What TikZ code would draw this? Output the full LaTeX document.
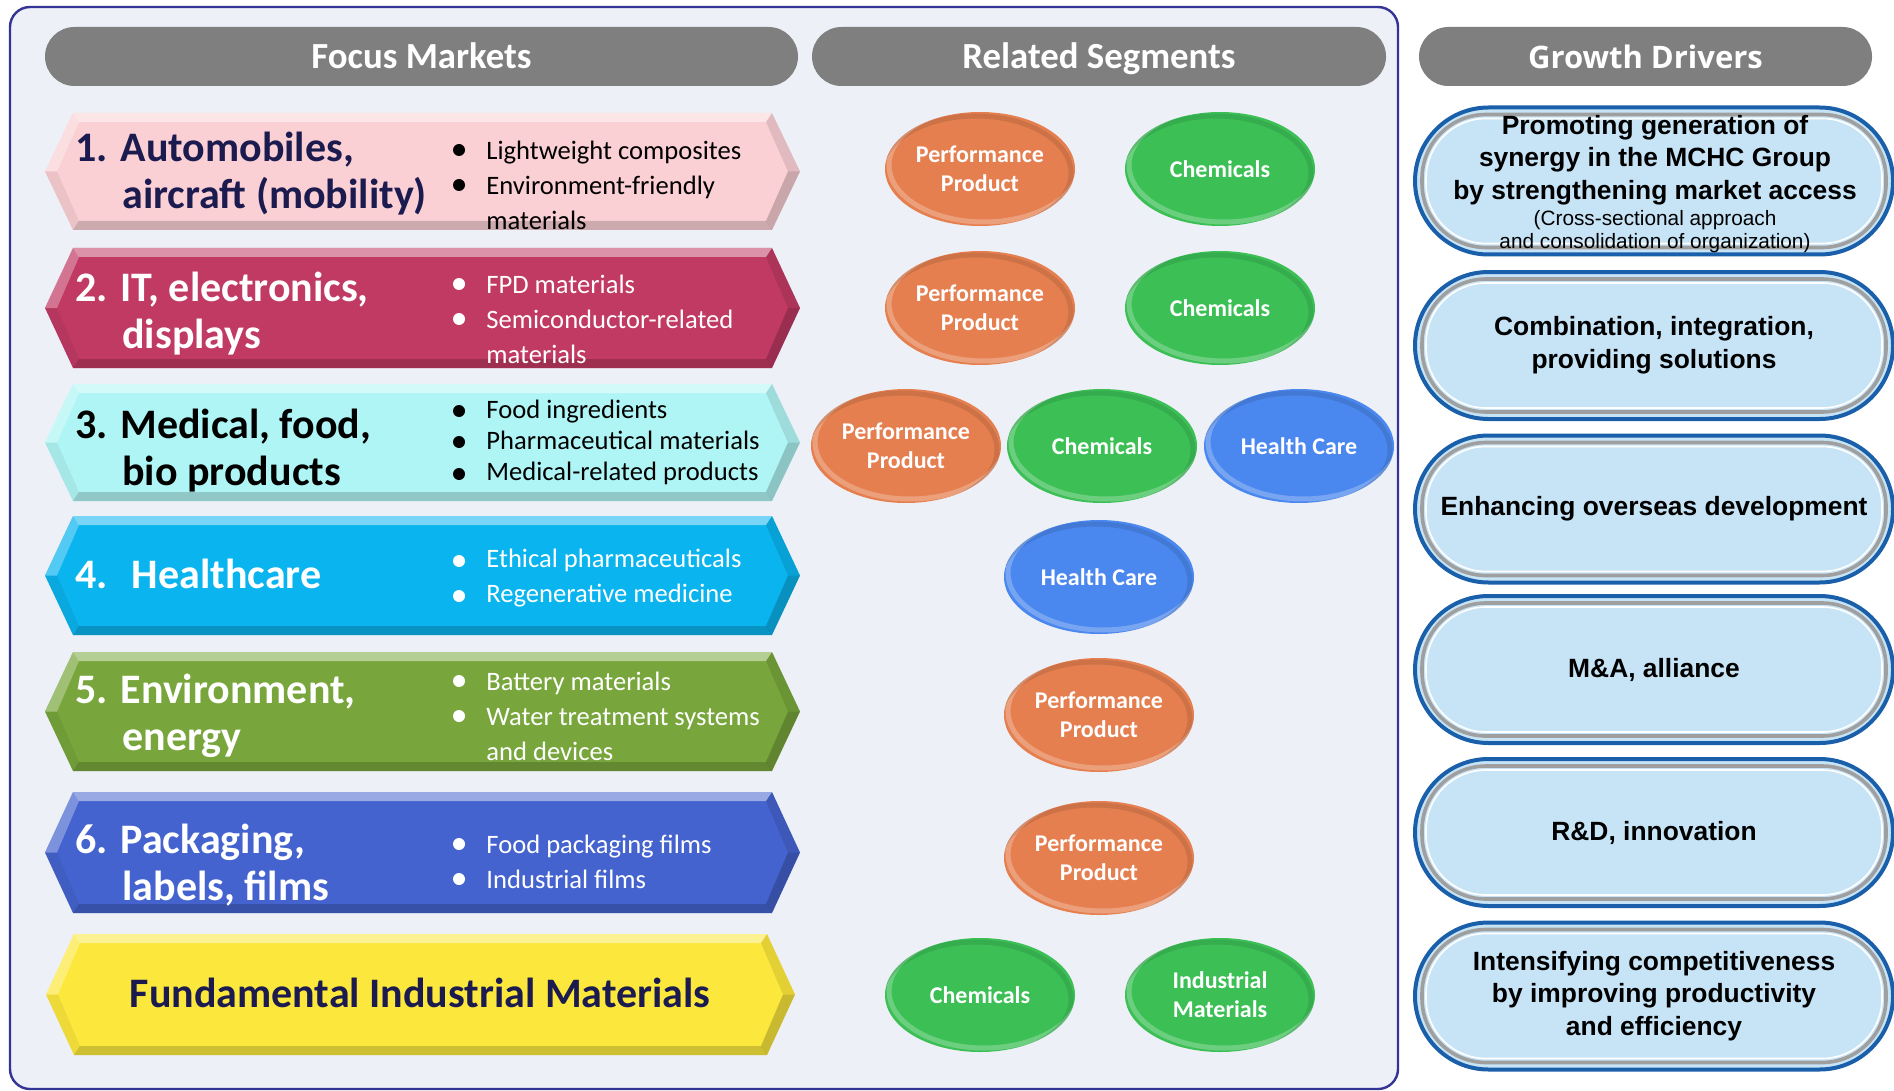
\documentclass[tikz,border=0pt]{standalone}
\usepackage{fontspec}
\usepackage{tikz}
\usetikzlibrary{shapes.geometric,shapes.misc,calc}
\newfontfamily\mktfont{Carlito}
\newfontfamily\drvfont{Liberation Sans}
\newfontfamily\hdrfont{Open Sans}
\definecolor{frameEdge}{RGB}{52,52,150}
\definecolor{frameFill}{RGB}{238,240,248}
\definecolor{hdrGray}{RGB}{127,127,127}
\definecolor{navyText}{RGB}{27,27,80}
\definecolor{mktPink}{RGB}{250,208,212}
\definecolor{mktCrimson}{RGB}{193,58,100}
\definecolor{mktCyan}{RGB}{176,245,245}
\definecolor{mktSky}{RGB}{10,180,238}
\definecolor{mktOlive}{RGB}{120,166,60}
\definecolor{mktRoyal}{RGB}{68,99,207}
\definecolor{mktYellow}{RGB}{252,232,60}
\definecolor{segOrange}{RGB}{229,127,80}
\definecolor{segGreen}{RGB}{60,192,86}
\definecolor{segBlue}{RGB}{74,135,238}
\definecolor{pillFill}{RGB}{199,228,247}
\definecolor{pillEdge}{RGB}{26,95,170}

% bevelled market banner: x0, x1, top, bottom, colour
\newcommand\mkthex[5]{%
  \fill[#5] (#1,{(#3+#4)/2}) -- ({#1+28},#3) -- ({#2-28},#3) -- (#2,{(#3+#4)/2}) -- ({#2-28},#4) -- ({#1+28},#4) -- cycle;
  \fill[white,opacity=.45] ({#1+28},#3) -- ({#2-28},#3) -- ({#2-34},{#3+9}) -- ({#1+34},{#3+9}) -- cycle;
  \fill[white,opacity=.3] (#1,{(#3+#4)/2}) -- ({#1+28},#3) -- ({#1+34},{#3+9}) -- ({#1+12},{(#3+#4)/2}) -- cycle;
  \fill[black,opacity=.06] (#1,{(#3+#4)/2}) -- ({#1+28},#4) -- ({#1+34},{#4-9}) -- ({#1+12},{(#3+#4)/2}) -- cycle;
  \fill[black,opacity=.1] (#2,{(#3+#4)/2}) -- ({#2-28},#3) -- ({#2-34},{#3+9}) -- ({#2-12},{(#3+#4)/2}) -- cycle;
  \fill[black,opacity=.2] (#2,{(#3+#4)/2}) -- ({#2-28},#4) -- ({#2-34},{#4-9}) -- ({#2-12},{(#3+#4)/2}) -- cycle;
  \fill[black,opacity=.18] ({#1+28},#4) -- ({#2-28},#4) -- ({#2-34},{#4-9}) -- ({#1+34},{#4-9}) -- cycle;
}

\tikzset{
  colhead/.style={rounded rectangle, fill=hdrGray, text=white, minimum height=29.5pt, inner sep=0pt,
    text height=14.5pt, text depth=2.5pt, font=\mktfont\bfseries\fontsize{18.4}{22}\selectfont},
  mkttitle/.style={anchor=west, align=left, inner sep=0pt, font=\mktfont\bfseries\fontsize{21}{23.5}\selectfont},
  mktlist/.style={anchor=west, align=left, inner sep=0pt, font=\mktfont\fontsize{13.3}{17.5}\selectfont},
  segment/.style={ellipse, minimum width=95pt, minimum height=57pt, inner sep=0pt, text=white, align=center,
    font=\mktfont\bfseries\fontsize{12}{14.5}\selectfont,
    path picture={
      \draw[white,opacity=.25,line width=2.5pt] ([shift={(2pt,2pt)}]path picture bounding box.center) ellipse [x radius=47.5pt, y radius=28.5pt];
      \draw[black,opacity=.1,line width=2.5pt] ([shift={(-2pt,-2pt)}]path picture bounding box.center) ellipse [x radius=47.5pt, y radius=28.5pt];
    }},
  perf/.style={segment, fill=segOrange},
  chem/.style={segment, fill=segGreen},
  hcare/.style={segment, fill=segBlue},
  driver/.style={rounded rectangle, minimum width=239pt, minimum height=73.5pt, inner sep=0pt,
    fill=pillFill, draw=pillEdge, line width=2pt, align=center,
    font=\drvfont\bfseries\fontsize{13.2}{16.3}\selectfont,
    path picture={
      \draw[gray!75, line width=1.8pt, rounded corners=32pt] ($(path picture bounding box.south west)+(3.5pt,3.5pt)$) rectangle ($(path picture bounding box.north east)-(3.5pt,3.5pt)$);
      \draw[white, line width=0.8pt, rounded corners=30pt] ($(path picture bounding box.south west)+(5.5pt,5.5pt)$) rectangle ($(path picture bounding box.north east)-(5.5pt,5.5pt)$);
    }},
  drvtext/.style={align=center, inner sep=0pt, font=\drvfont\bfseries\fontsize{13.2}{16.3}\selectfont},
}

\begin{document}
\begin{tikzpicture}[x=0.5pt,y=-0.5pt]
\useasboundingbox (0,0) rectangle (1894,1091);
\fill[white] (0,0) rectangle (1894,1091);
\draw[frameEdge, line width=1.2pt, fill=frameFill, rounded corners=10pt] (10,7) rectangle (1398,1089);

% column heads
\node[colhead, minimum width=376.5pt] (hdMarkets) at (421.5,56.5) {Focus Markets};
\node[colhead, minimum width=287pt] (hdSegments) at (1099,56.5) {Related Segments};
\node[colhead, minimum width=226.5pt, font=\hdrfont\bfseries\fontsize{15.5}{19}\selectfont] (hdDrivers) at (1645.5,56.5) {Growth Drivers};

% focus markets
\mkthex{45}{800}{113}{230}{mktPink}
\mkthex{45}{800}{248}{368}{mktCrimson}
\mkthex{45}{800}{384}{501}{mktCyan}
\mkthex{45}{800}{516}{635}{mktSky}
\mkthex{45}{800}{652}{771}{mktOlive}
\mkthex{45}{800}{792}{913}{mktRoyal}
\mkthex{46}{795}{934}{1055}{mktYellow}

\node[mkttitle, text=navyText] (mk1) at (75,174) {1. Automobiles,\\\hspace*{23.5pt}aircraft (mobility)};
\node[mkttitle, text=white] (mk2) at (75,314) {2. IT, electronics,\\\hspace*{23.5pt}displays};
\node[mkttitle, text=black] (mk3) at (75,451) {3. Medical, food,\\\hspace*{23.5pt}bio products};
\node[mkttitle, text=white] (mk4) at (75,574) {4.\hspace*{12pt}Healthcare};
\node[mkttitle, text=white] (mk5) at (75,716) {5. Environment,\\\hspace*{23.5pt}energy};
\node[mkttitle, text=white] (mk6) at (75,865) {6. Packaging,\\\hspace*{23.5pt}labels, films};
\node[mkttitle, anchor=center, text=navyText] (mk7) at (420,993) {Fundamental Industrial Materials};

\node[mktlist, text=black] (ls1) at (486,185) {Lightweight composites\\Environment-friendly\\materials};
\fill[black] (459,150) circle (3pt) (459,185) circle (3pt);
\node[mktlist, text=white] (ls2) at (486,319) {FPD materials\\Semiconductor-related\\materials};
\fill[white] (459,284) circle (3pt) (459,319) circle (3pt);
\node[mktlist, text=black, font=\mktfont\fontsize{13.3}{15.5}\selectfont] (ls3) at (486,442.5) {Food ingredients\\Pharmaceutical materials\\Medical-related products};
\fill[black] (459,411) circle (3pt) (459,442) circle (3pt) (459,474) circle (3pt);
\node[mktlist, text=white] (ls4) at (486,578.5) {Ethical pharmaceuticals\\Regenerative medicine};
\fill[white] (459,561) circle (3pt) (459,596) circle (3pt);
\node[mktlist, text=white] (ls5) at (486,716) {Battery materials\\Water treatment systems\\and devices};
\fill[white] (459,681) circle (3pt) (459,716) circle (3pt);
\node[mktlist, text=white] (ls6) at (486,861.5) {Food packaging films\\Industrial films};
\fill[white] (459,844) circle (3pt) (459,879) circle (3pt);

% related segments
\node[perf] (pp1) at (980,169) {Performance\\Product};
\node[chem] (ch1) at (1220,169) {Chemicals};
\node[perf] (pp2) at (980,308) {Performance\\Product};
\node[chem] (ch2) at (1220,308) {Chemicals};
\node[perf] (pp3) at (906,446) {Performance\\Product};
\node[chem] (ch3) at (1102,446) {Chemicals};
\node[hcare] (hc3) at (1299,446) {Health Care};
\node[hcare] (hc4) at (1099,577) {Health Care};
\node[perf] (pp5) at (1099,715) {Performance\\Product};
\node[perf] (pp6) at (1099,858) {Performance\\Product};
\node[chem] (ch7) at (980,995) {Chemicals};
\node[chem] (im7) at (1220,995) {Industrial\\Materials};

% growth drivers
\node[driver] (drv1) at (1654,181) {};
\node[drvtext] (drv1txt) at (1655,184) {Promoting generation of\\synergy in the MCHC Group\\by strengthening market access\\[-3pt]{\mdseries\fontsize{10.4}{11.5}\selectfont (Cross-sectional approach}\\[-4.8pt]{\mdseries\fontsize{10.4}{11.5}\selectfont and consolidation of organization)}};
\node[driver] (drv2) at (1654,345.5) {Combination, integration,\\providing solutions};
\node[driver] (drv3) at (1654,509) {Enhancing overseas development};
\node[driver] (drv4) at (1654,669.5) {M\&A, alliance};
\node[driver] (drv5) at (1654,832.5) {R\&D, innovation};
\node[driver] (drv6) at (1654,996) {Intensifying competitiveness\\by improving productivity\\and efficiency};
\end{tikzpicture}
\end{document}
